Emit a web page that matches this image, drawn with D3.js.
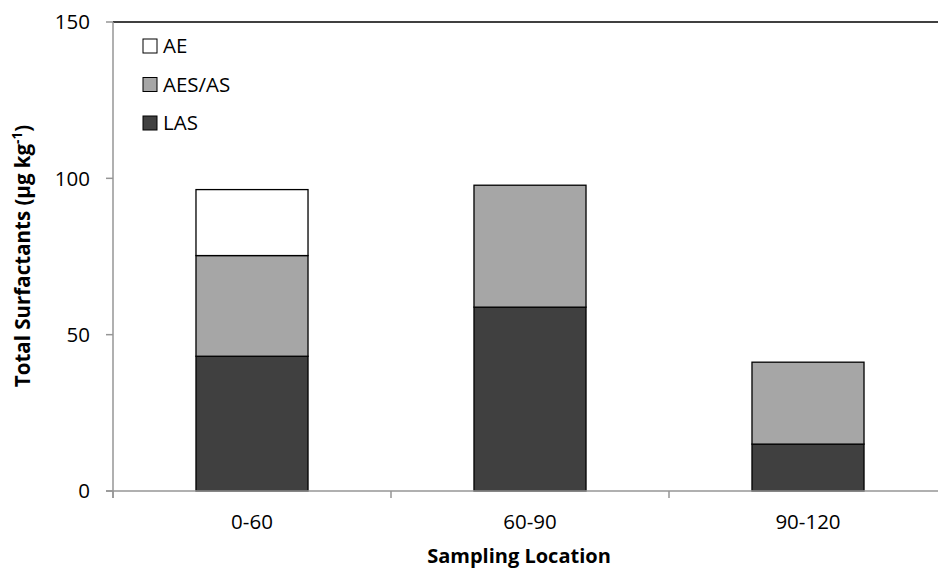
<!DOCTYPE html>
<html><head><meta charset="utf-8">
<script src="https://cdn.jsdelivr.net/npm/d3@7"></script>
<style>body{margin:0;background:#fff}svg{display:block}text{font-family:"Open Sans",sans-serif;fill:#000}</style>
</head><body><svg id="c" width="938" height="568"></svg>
<script>
const categories = ["0-60", "60-90", "90-120"];
const seriesNames = ["LAS", "AES/AS", "AE"];
const LAS = [43.1, 58.8, 15.0];
const AES = [32.2, 39.0, 26.2];
const AE  = [21.1, 0, 0];
const yTicks = [0, 50, 100, 150];
const colors = {"LAS": "#404040", "AES/AS": "#a6a6a6", "AE": "#ffffff"};

const svg = d3.select("#c");
const L = 113, R = 947, T = 22, B = 491;
const x = d3.scaleBand().domain(categories).range([L, R]).paddingInner(0.597).paddingOuter(0.2985);
const xb = d3.scaleBand().domain(categories).range([L, R]).padding(0);
const y = d3.scaleLinear().domain([0, 150]).range([B, T]);

const rows = categories.map((c, i) => ({cat: c, "LAS": LAS[i], "AES/AS": AES[i], "AE": AE[i]}));
const stacked = d3.stack().keys(seriesNames)(rows);

// top border
svg.append("line").attr("x1", L).attr("x2", 938).attr("y1", y(150)).attr("y2", y(150))
  .attr("stroke", "#000").attr("stroke-width", 1.5);

// bars
stacked.forEach(s => {
  svg.append("g").selectAll("rect").data(s.filter(d => d[1] - d[0] > 0)).join("rect")
    .attr("x", d => x(d.data.cat)).attr("width", x.bandwidth())
    .attr("y", d => y(d[1])).attr("height", d => y(d[0]) - y(d[1]))
    .attr("fill", colors[s.key]).attr("stroke", "#000").attr("stroke-width", 1.3);
});

// y axis
const gy = svg.append("g");
gy.append("line").attr("x1", L).attr("x2", L).attr("y1", y(150)).attr("y2", B + 7).attr("stroke", "#969696").attr("stroke-width", 1.5);
yTicks.forEach(t => {
  gy.append("line").attr("x1", L - 7).attr("x2", L).attr("y1", y(t)).attr("y2", y(t)).attr("stroke", "#969696").attr("stroke-width", 1.5);
  gy.append("text").attr("x", 90).attr("y", y(t)).attr("dy", "0.36em").attr("text-anchor", "end")
    .attr("font-size", 20.5).text(t);
});

// x axis
const gx = svg.append("g");
gx.append("line").attr("x1", L - 7).attr("x2", 938).attr("y1", B).attr("y2", B).attr("stroke", "#969696").attr("stroke-width", 1.5);
categories.forEach((c, i) => {
  const bx = xb(c);
  gx.append("line").attr("x1", bx).attr("x2", bx).attr("y1", B).attr("y2", B + 7).attr("stroke", "#969696").attr("stroke-width", 1.5);
  gx.append("text").attr("x", x(c) + x.bandwidth() / 2).attr("y", 529).attr("text-anchor", "middle")
    .attr("font-size", 20.5).text(c);
});

// axis titles
svg.append("text").attr("x", 519).attr("y", 563).attr("text-anchor", "middle")
  .attr("font-size", 20).attr("font-weight", "bold").text("Sampling Location");
const yt = svg.append("text").attr("transform", "translate(30,256) rotate(-90)").attr("text-anchor", "middle")
  .attr("font-size", 20.5).attr("font-weight", "bold");
yt.append("tspan").text("Total Surfactants (µg kg");
yt.append("tspan").attr("font-size", 13.5).attr("dy", -8).text("-1");
yt.append("tspan").attr("dy", 8).text(")");

// legend
const legendOrder = ["AE", "AES/AS", "LAS"];
legendOrder.forEach((k, i) => {
  const ly = 46 + i * 38.5;
  svg.append("rect").attr("x", 143).attr("y", ly - 7).attr("width", 14).attr("height", 14)
    .attr("fill", colors[k]).attr("stroke", "#000").attr("stroke-width", 1);
  svg.append("text").attr("x", 163).attr("y", ly).attr("dy", "0.36em").attr("font-size", 20.5).text(k);
});
</script></body></html>
